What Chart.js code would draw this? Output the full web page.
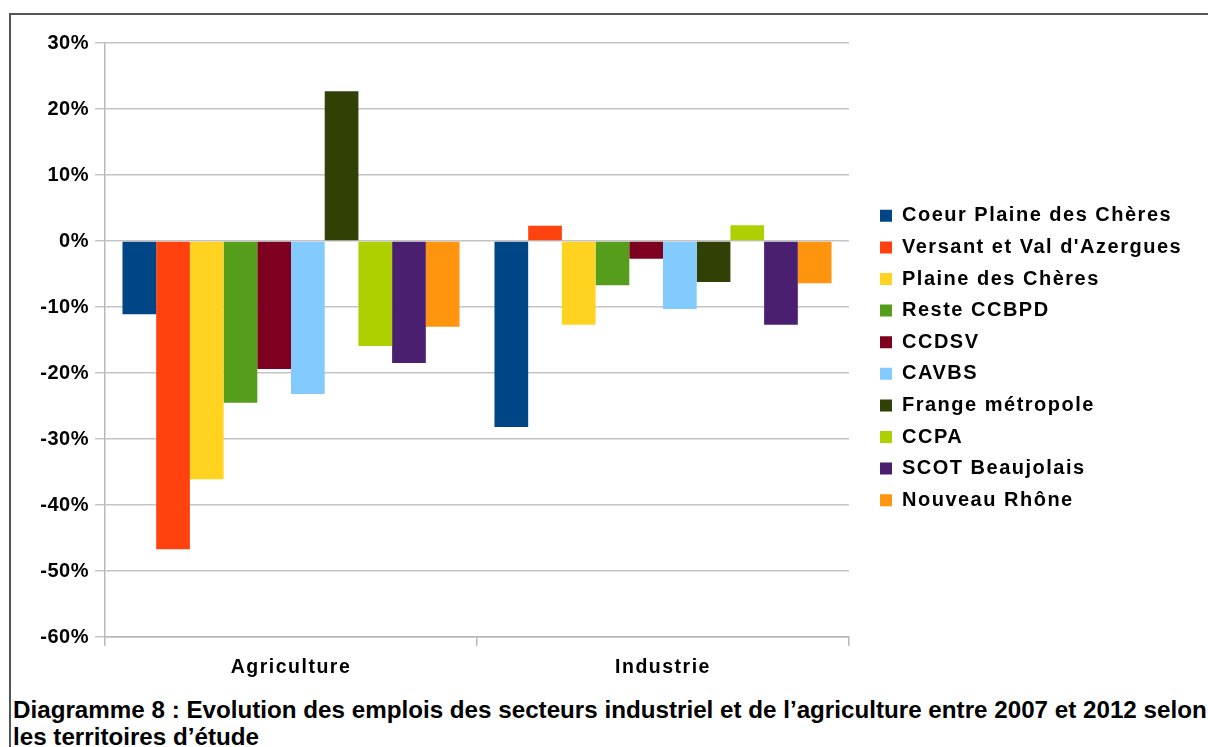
<!DOCTYPE html>
<html>
<head>
<meta charset="utf-8">
<script src="https://cdn.jsdelivr.net/npm/chart.js@4/dist/chart.umd.min.js"></script>
<style>
  html, body { margin: 0; padding: 0; background: #fff; overflow: hidden; }
  body { width: 1208px; height: 747px; position: relative; }
  #frame {
    position: absolute; left: 9px; top: 13px; width: 1210px; height: 750px;
    border-left: 2px solid #555; border-top: 2px solid #555;
  }
  #wrap { position: absolute; left: 11px; top: 15px; width: 1197px; height: 680px; }
  #caption {
    position: absolute; left: 13px; top: 696px;
    font: bold 24.2px "Liberation Sans", Arial, sans-serif; line-height: 27px;
    color: #000; white-space: nowrap;
  }
</style>
</head>
<body>
<div id="frame"></div>
<div id="wrap"><canvas id="chart"></canvas></div>
<div id="caption">Diagramme 8 : Evolution des emplois des secteurs industriel et de l’agriculture entre 2007 et 2012 selon<br>les territoires d’étude</div>
<script>
var categories = ["Agriculture", "Industrie"];

var coeurPlaine   = [-11.1, -28.2];
var versantVal    = [-46.7, 2.3];
var plaineCheres  = [-36.1, -12.7];
var resteCCBPD    = [-24.5, -6.7];
var ccdsv         = [-19.4, -2.7];
var cavbs         = [-23.2, -10.3];
var frangeMetro   = [22.7, -6.2];
var ccpa          = [-15.9, 2.4];
var scotBeaujolais= [-18.5, -12.7];
var nouveauRhone  = [-13.0, -6.4];

var yTicks = [30, 20, 10, 0, -10, -20, -30, -40, -50, -60];

var series = [
  ["Coeur Plaine des Chères", coeurPlaine, "#004586"],
  ["Versant et Val d'Azergues", versantVal, "#ff420e"],
  ["Plaine des Chères", plaineCheres, "#ffd320"],
  ["Reste CCBPD", resteCCBPD, "#579d1c"],
  ["CCDSV", ccdsv, "#7e0021"],
  ["CAVBS", cavbs, "#83caff"],
  ["Frange métropole", frangeMetro, "#314004"],
  ["CCPA", ccpa, "#aecf00"],
  ["SCOT Beaujolais", scotBeaujolais, "#4b1f6f"],
  ["Nouveau Rhône", nouveauRhone, "#ff950e"]
];

var datasets = series.map(function(s) {
  return {
    label: s[0],
    data: s[1],
    backgroundColor: s[2],
    borderWidth: 0,
    barPercentage: 1.0,
    categoryPercentage: 0.906
  };
});

// tracked text like the original, and a fixed legend box
var tweaks = {
  id: 'tweaks',
  beforeLayout: function(chart) {
    chart.ctx.letterSpacing = '1.5px';
    var lg = chart.legend;
    if (lg && !lg._fixed) {
      var fit = lg.fit;
      lg.fit = function() { fit.call(this); this.width = 359; };
      lg._fixed = true;
    }
  },
  afterLayout: function(chart) {
    var lg = chart.legend;
    lg.left += 19.4; lg.right += 19.4;
    lg.top -= 6; lg.bottom -= 6;
  },
  beforeDraw: function(chart) {
    chart.ctx.letterSpacing = '1.5px';
    var s = chart.scales.y;
    if (s && !s._fixed) {
      var orig = s.drawLabels;
      s.drawLabels = function(area) {
        var c = this.ctx, prev = c.letterSpacing;
        c.letterSpacing = '0.5px';
        orig.call(this, area);
        c.letterSpacing = prev;
      };
      s._fixed = true;
    }
  }
};

var font = "'Liberation Sans', Arial, sans-serif";

new Chart(document.getElementById("chart"), {
  type: 'bar',
  data: { labels: categories, datasets: datasets },
  plugins: [tweaks],
  options: {
    responsive: true,
    maintainAspectRatio: false,
    animation: false,
    layout: { padding: { left: 14, top: 28, right: 0, bottom: 10 } },
    plugins: {
      tooltip: { enabled: false },
      legend: {
        position: 'right',
        align: 'center',
        labels: {
          boxWidth: 12,
          boxHeight: 12,
          padding: 11.6,
          color: '#000',
          font: { family: font, size: 20, weight: 'bold' }
        }
      }
    },
    scales: {
      x: {
        afterFit: function(scale) { scale.height = 48; },
        grid: { display: true, drawOnChartArea: false, offset: true, color: '#b8b8b8', lineWidth: 1.5, tickLength: 9 },
        border: { color: '#b8b8b8', width: 1.5 },
        ticks: { color: '#000', padding: 10, font: { family: font, size: 19.5, weight: 'bold' } }
      },
      y: {
        min: -60,
        max: 30,
        afterFit: function(scale) { scale.width = 80; },
        afterBuildTicks: function(scale) {
          scale.ticks = yTicks.map(function(v) { return { value: v }; });
        },
        grid: { color: '#c4c4c4', lineWidth: 1.5, tickLength: 10 },
        border: { color: '#b8b8b8', width: 1.5 },
        ticks: {
          color: '#000',
          padding: 6,
          font: { family: font, size: 20, weight: 'bold' },
          callback: function(v) { return v + '%'; }
        }
      }
    }
  }
});
</script>
</body>
</html>
